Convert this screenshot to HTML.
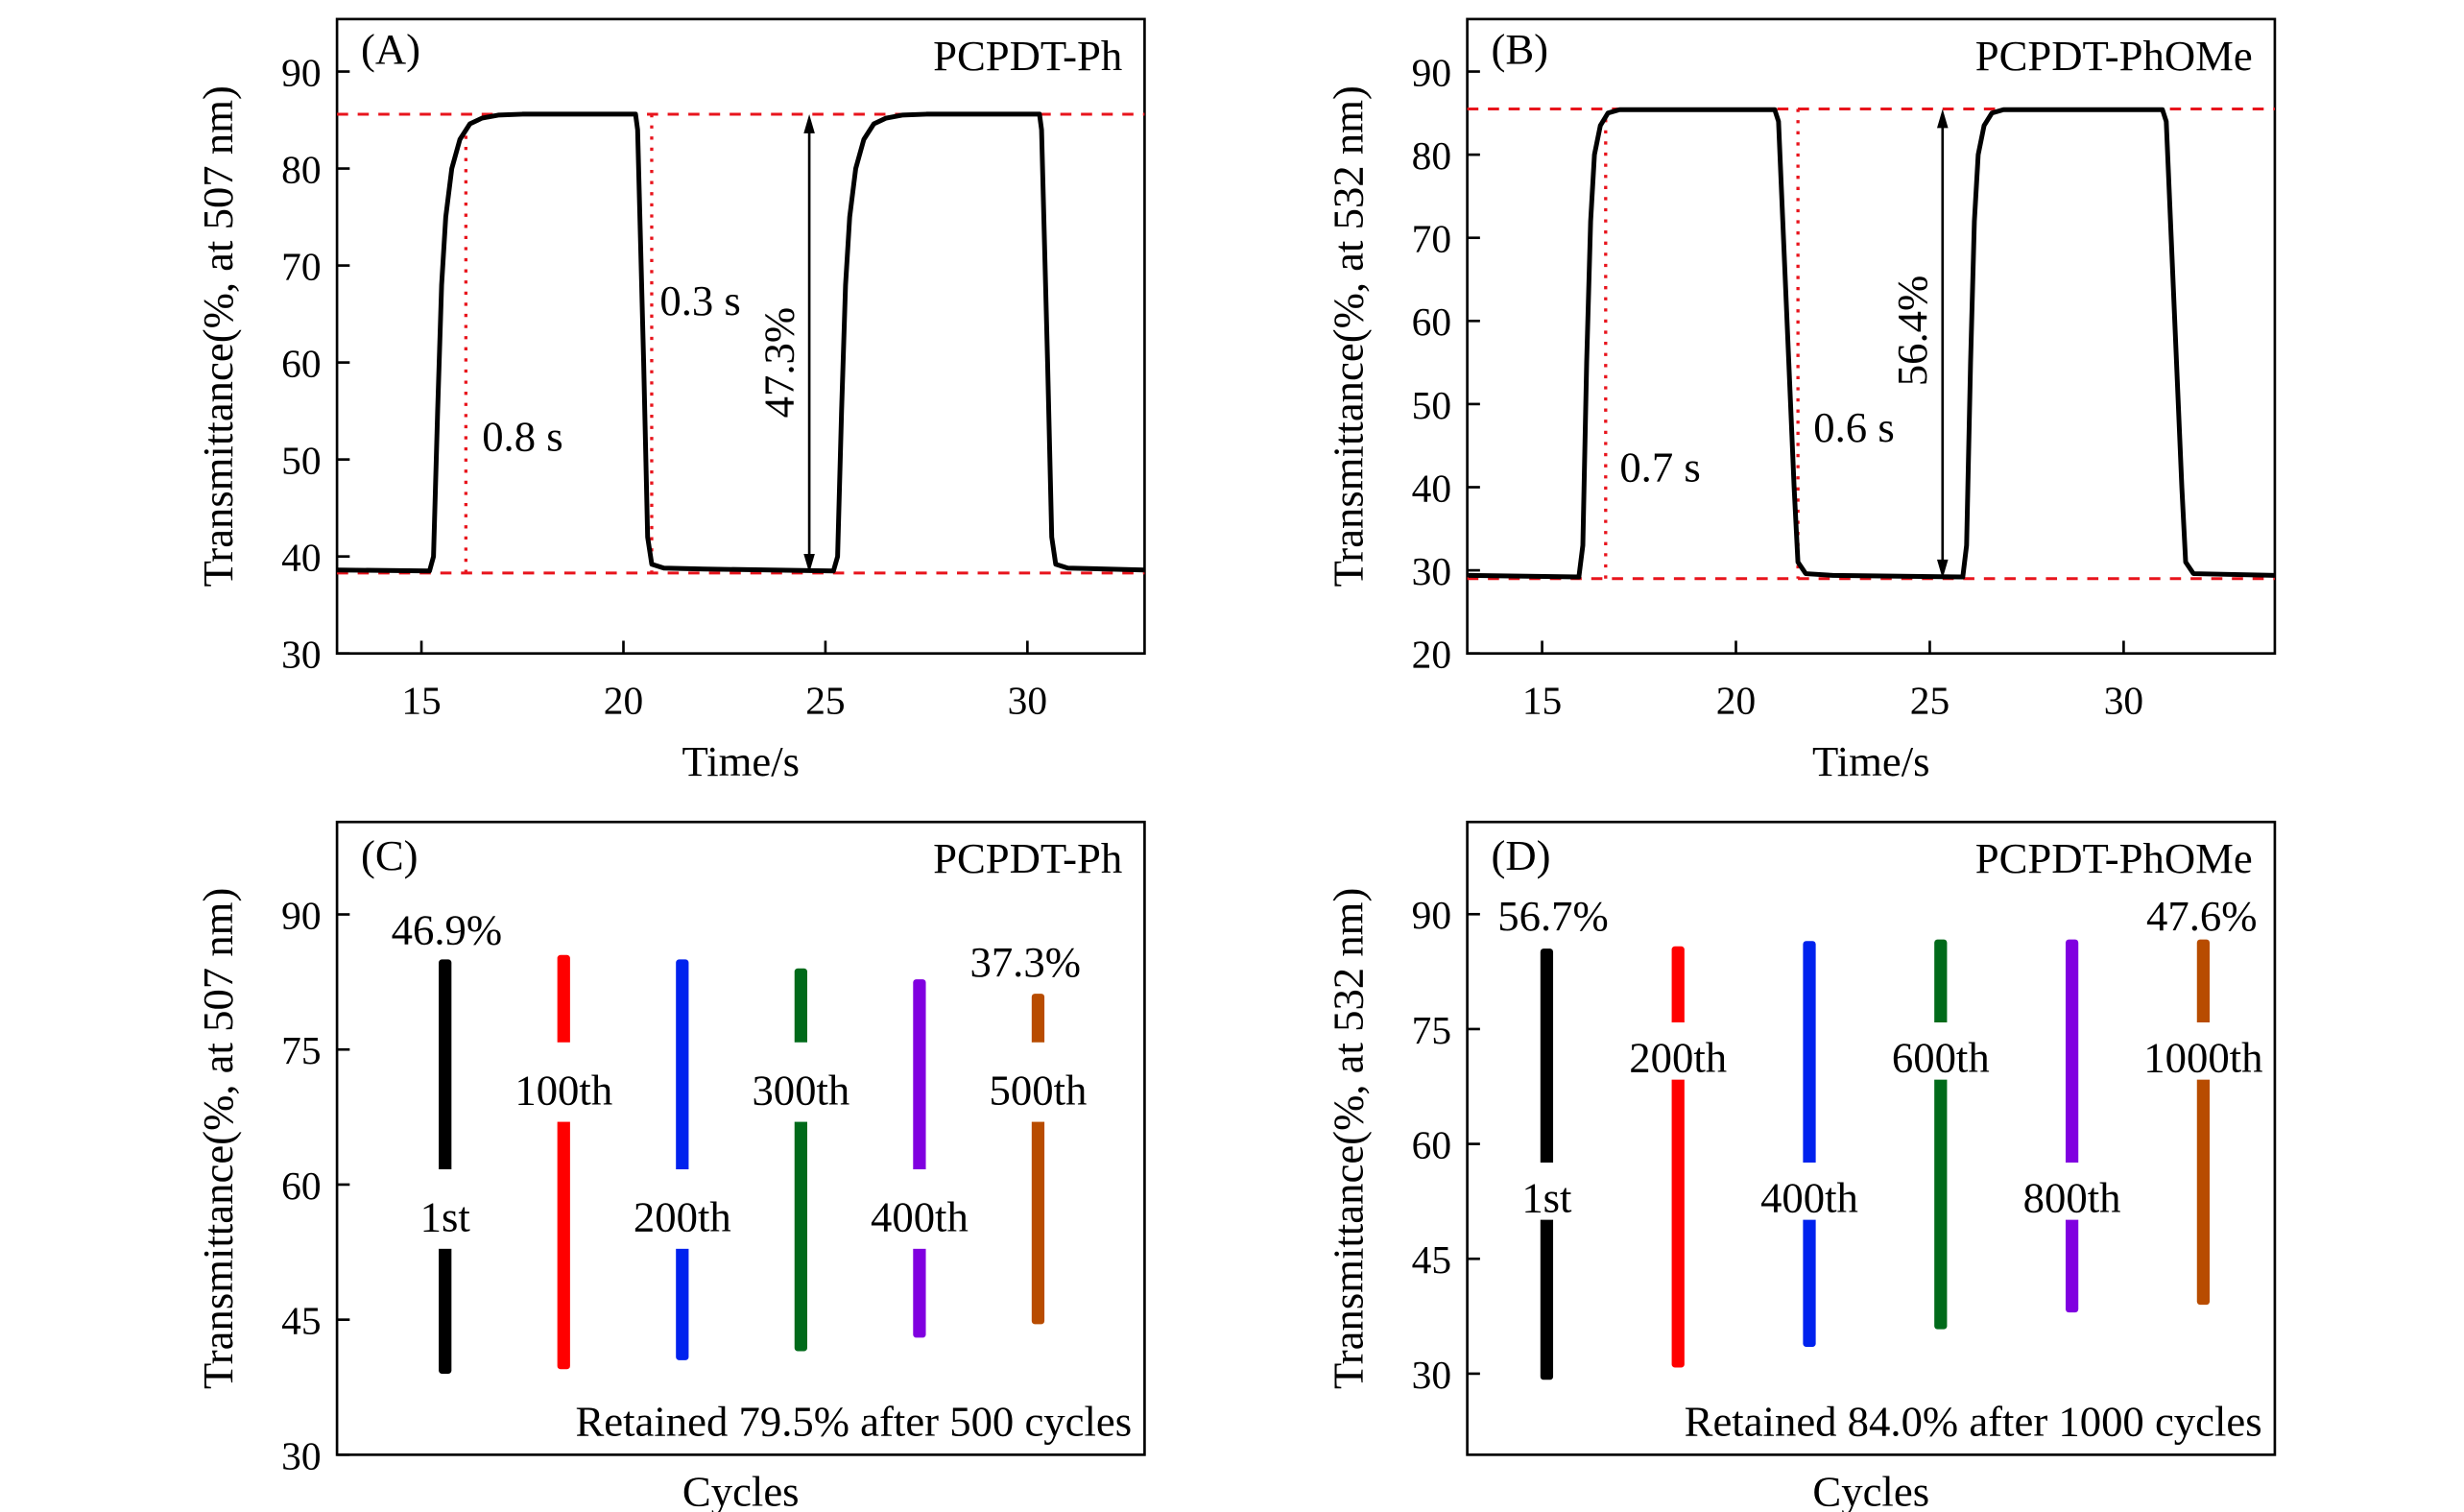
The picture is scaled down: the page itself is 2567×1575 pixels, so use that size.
<!DOCTYPE html>
<html><head><meta charset="utf-8"><style>
html,body{margin:0;padding:0;background:#fff;}
svg{display:block;font-family:"Liberation Serif",serif;}
</style></head>
<body>
<svg id="fig" width="2567" height="1575" viewBox="0 0 1550 951" xmlns="http://www.w3.org/2000/svg"></svg>
<script>
// ---- Panel A data ----
const timeA = [12.9,15.2,15.3,15.4,15.5,15.6,15.75,15.95,16.2,16.5,16.9,17.5,20.3,20.35,20.5,20.6,20.7,21,22,25.2,25.3,25.4,25.5,25.6,25.75,25.95,26.2,26.5,26.9,27.5,30.3,30.35,30.5,30.6,30.7,31,32.9];
const transA = [38.6,38.5,40,55,68,75,80,83,84.6,85.2,85.5,85.6,85.6,84,60,42,39.2,38.8,38.7,38.5,40,55,68,75,80,83,84.6,85.2,85.5,85.6,85.6,84,60,42,39.2,38.8,38.6];
const xTicksA = [15,20,25,30];
const yTicksA = [30,40,50,60,70,80,90];
// ---- Panel B data ----
const timeB = [13.1,15.95,16.05,16.15,16.25,16.35,16.5,16.7,17,21.0,21.1,21.3,21.5,21.6,21.8,22.5,25.85,25.95,26.05,26.15,26.25,26.4,26.6,26.9,31.0,31.1,31.3,31.5,31.6,31.8,33.9];
const transB = [29.4,29.2,33,55,72,80,83.5,85,85.4,85.4,84,62,40,31,29.6,29.4,29.2,33,55,72,80,83.5,85,85.4,85.4,84,62,40,31,29.6,29.4];
const xTicksB = [15,20,25,30];
const yTicksB = [20,30,40,50,60,70,80,90];
// ---- Panel C data ----
const cyclesC = ["1st","100th","200th","300th","400th","500th"];
const topC = [85,85.5,85,84,82.8,81.2];
const botC = [39,39.5,40.5,41.5,43,44.5];
const colorsC = ["#000000","#ff0000","#0022ee","#006a1a","#8000e0","#b84c00"];
const labelValC = [56.4,70.5,56.4,70.5,56.4,70.5];
const yTicksC = [30,45,60,75,90];
// ---- Panel D data ----
const cyclesD = ["1st","200th","400th","600th","800th","1000th"];
const topD = [85.5,85.8,86.5,86.7,86.7,86.7];
const botD = [29.2,30.8,33.5,35.8,38,39];
const colorsD = ["#000000","#ff0000","#0022ee","#006a1a","#8000e0","#b84c00"];
const labelValD = [53,71.3,53,71.3,53,71.3];
const yTicksD = [30,45,60,75,90];

const svg = document.getElementById('fig');
const NS = 'http://www.w3.org/2000/svg';
const FT = 25, FA = 27;
function mk(tag, attrs, parent, text){
  const e = document.createElementNS(NS, tag);
  for (const k in attrs) e.setAttribute(k, attrs[k]);
  if (text !== undefined) e.textContent = text;
  (parent||svg).appendChild(e);
  return e;
}
function lin(d0,d1,r0,r1){ return v => r0 + (v-d0)*(r1-r0)/(d1-d0); }

function frame(g, L,T,R,B, yT, ys, xT, xs, ytitle, xtitle){
  const f = mk('rect',{x:L,y:T,width:R-L,height:B-T,fill:'none',stroke:'#000','stroke-width':1.6},g);
   
  yT.forEach(v=>{
    const l = mk('line',{x1:L,x2:L+8,y1:ys(v),y2:ys(v),stroke:'#000','stroke-width':1.6},g);
     
    const t = mk('text',{x:L-10,y:ys(v)+9,'text-anchor':'end','font-size':FT},g,String(v));
     
  });
  (xT||[]).forEach(v=>{
    const l = mk('line',{x1:xs(v),x2:xs(v),y1:B,y2:B-8,stroke:'#000','stroke-width':1.6},g);
     
    const t = mk('text',{x:xs(v),y:B+38,'text-anchor':'middle','font-size':FT},g,String(v));
     
  });
  const yc=(T+B)/2;
  const yt = mk('text',{x:0,y:0,transform:`translate(${L-66},${yc}) rotate(-90)`,'text-anchor':'middle','font-size':FA},g,ytitle);
   
  const xt = mk('text',{x:(L+R)/2,y:xtitle[1],'text-anchor':'middle','font-size':FA},g,xtitle[0]);
   
}

function linePanel(name, L,T,R,B, xd, yd, xT, yT, times, vals, cfg){
  const g = mk('g',{});
   
  const xs = lin(xd[0],xd[1],L,R), ys = lin(yd[0],yd[1],B,T);
  frame(g,L,T,R,B,yT,ys,xT,xs,cfg.ytitle,['Time/s',488]);
  [cfg.hi,cfg.lo].forEach(v=>{
    const l = mk('line',{x1:L,x2:R,y1:ys(v),y2:ys(v),stroke:'#e8141c','stroke-width':1.8,'stroke-dasharray':'7,6'},g);
     
  });
  cfg.dots.forEach(d=>{
    const l = mk('line',{x1:xs(d[0]),x2:xs(d[0]),y1:ys(d[1]),y2:ys(d[2]),stroke:'#e8141c','stroke-width':2,'stroke-dasharray':'2,5'},g);
     
  });
  const pts = times.map((t,i)=>xs(t).toFixed(1)+','+ys(vals[i]).toFixed(1)).join(' ');
  const p = mk('polyline',{points:pts,fill:'none',stroke:'#000','stroke-width':3,'stroke-linejoin':'round'},g);
   
  const ax = xs(cfg.arrowX), y1=ys(cfg.hi), y2=ys(cfg.lo);
  const al = mk('line',{x1:ax,x2:ax,y1:y1+8,y2:y2-8,stroke:'#000','stroke-width':1.6},g);
   
  mk('polygon',{points:`${ax},${y1} ${ax-3.5},${y1+12} ${ax+3.5},${y1+12}`,fill:'#000'},g);
  mk('polygon',{points:`${ax},${y2} ${ax-3.5},${y2-12} ${ax+3.5},${y2-12}`,fill:'#000'},g);
  const ct = mk('text',{x:0,y:0,transform:`translate(${ax-10},${cfg.pctY}) rotate(-90)`,'text-anchor':'middle','font-size':FA},g,cfg.pct);
   
  cfg.labels.forEach(lb=>{
    const t = mk('text',{x:xs(lb[1]),y:ys(lb[2]),'font-size':FA},g,lb[0]);
     
  });
  const pl = mk('text',{x:L+15,y:T+28,'font-size':FA},g,cfg.letter);
   
  const pn = mk('text',{x:R-14,y:T+32,'text-anchor':'end','font-size':FA},g,cfg.poly);
   
}

function barPanel(name, L,T,R,B, yd, yT, cats, tops, bots, cols, lvals, xpos0, xstep, cfg){
  const g = mk('g',{});
   
  const ys = lin(yd[0],yd[1],B,T);
  frame(g,L,T,R,B,yT,ys,null,null,cfg.ytitle,['Cycles',947]);
  const xs = i => xpos0 + i*xstep;
  cats.forEach((c,i)=>{
    const b = mk('rect',{x:xs(i)-4,y:ys(tops[i]),width:8,height:ys(bots[i])-ys(tops[i]),fill:cols[i],rx:2},g);
     
    const gy = ys(lvals[i]);
    mk('rect',{x:xs(i)-6,y:gy-cfg.gapUp,width:12,height:cfg.gapUp+cfg.gapDn,fill:'#fff'},g);
    const t = mk('text',{x:xs(i),y:gy+9,'text-anchor':'middle','font-size':FA},g,c);
     
  });
  cfg.pcts.forEach(p=>{
    const t = mk('text',{x:p[1],y:p[2],'text-anchor':'middle','font-size':FA},g,p[0]);
     
  });
  const pl = mk('text',{x:L+15,y:T+30,'font-size':FA},g,cfg.letter);
   
  const pn = mk('text',{x:R-14,y:T+32,'text-anchor':'end','font-size':FA},g,cfg.poly);
   
  const rt = mk('text',{x:R-8,y:B-12,'text-anchor':'end','font-size':FA},g,cfg.ret);
   
}

linePanel('panel-a',212,12,720,411,[12.91,32.9],[30,90+(45-12)/6.1],xTicksA,yTicksA,timeA,transA,{
  ytitle:'Transmittance(%, at 507 nm)',hi:85.6,lo:38.3,
  dots:[[16.1,38.3,84],[20.7,85.6,38.3]],arrowX:24.6,pct:'47.3%',pctY:228,
  labels:[['0.8 s',16.5,50.9],['0.3 s',20.9,64.9]],letter:'(A)',poly:'PCPDT-Ph'});
linePanel('panel-b',923,12,1431,411,[13.07,33.9],[20,90+(45-12)/5.229],xTicksB,yTicksB,timeB,transB,{
  ytitle:'Transmittance(%, at 532 nm)',hi:85.5,lo:29.0,
  dots:[[16.64,29,84.5],[21.6,85.5,29]],arrowX:25.33,pct:'56.4%',pctY:208,
  labels:[['0.7 s',17.0,40.7],['0.6 s',22.0,45.5]],letter:'(B)',poly:'PCPDT-PhOMe'});
barPanel('panel-c',212,517,720,915,[30,90+(575-517)/5.65],yTicksC,cyclesC,topC,botC,colorsC,labelValC,280,74.6,{
  ytitle:'Transmittance(%, at 507 nm)',gapUp:30,gapDn:20,
  pcts:[['46.9%',281,594],['37.3%',645,614]],letter:'(C)',poly:'PCPDT-Ph',ret:'Retained 79.5% after 500 cycles'});
barPanel('panel-d',923,517,1431,915,[30-(915-864)/4.817,90+(575-517)/4.817],yTicksD,cyclesD,topD,botD,colorsD,labelValD,973,82.6,{
  ytitle:'Transmittance(%, at 532 nm)',gapUp:22,gapDn:14,
  pcts:[['56.7%',977,585],['47.6%',1385,585]],letter:'(D)',poly:'PCPDT-PhOMe',ret:'Retained 84.0% after 1000 cycles'});
</script>
</body></html>
